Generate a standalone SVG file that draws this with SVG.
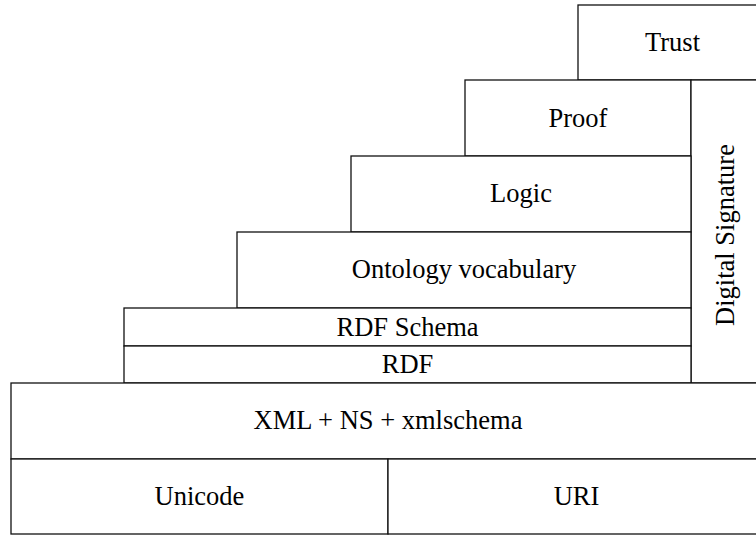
<svg xmlns="http://www.w3.org/2000/svg" width="756" height="535" viewBox="0 0 756 535">
  <style>
    .box { fill: #fff; stroke: #111; stroke-width: 1.3; }
    .lbl { font-size: 26.5px; fill: #000; text-anchor: middle; }
  </style>
  <rect x="0" y="0" width="756" height="535" fill="#fff"/>
  <!-- Semantic web layer cake, top to bottom -->
  <g font-family="Liberation Serif, Times New Roman, DejaVu Serif, serif">
  <g id="trust">
    <rect class="box" x="578" y="5" width="200" height="75"/>
    <text class="lbl" x="672.5" y="51">Trust</text>
  </g>
  <g id="proof">
    <rect class="box" x="465" y="80" width="226" height="76"/>
    <text class="lbl" x="578" y="127">Proof</text>
  </g>
  <g id="digital-signature">
    <rect class="box" x="691" y="80" width="90" height="303"/>
    <text class="lbl" transform="translate(734,235) rotate(-90)" x="0" y="0">Digital Signature</text>
  </g>
  <g id="logic">
    <rect class="box" x="351" y="156" width="340" height="76"/>
    <text class="lbl" x="521" y="202">Logic</text>
  </g>
  <g id="ontology">
    <rect class="box" x="237" y="232" width="454" height="76"/>
    <text class="lbl" x="464" y="278">Ontology vocabulary</text>
  </g>
  <g id="rdf-schema">
    <rect class="box" x="124" y="308" width="567" height="38"/>
    <text class="lbl" x="407.5" y="336">RDF Schema</text>
  </g>
  <g id="rdf">
    <rect class="box" x="124" y="346" width="567" height="37"/>
    <text class="lbl" x="407.5" y="373">RDF</text>
  </g>
  <g id="xml">
    <rect class="box" x="11" y="383" width="754" height="76"/>
    <text class="lbl" x="388" y="429">XML + NS + xmlschema</text>
  </g>
  <g id="unicode">
    <rect class="box" x="11" y="459" width="377" height="75"/>
    <text class="lbl" x="199.5" y="505">Unicode</text>
  </g>
  <g id="uri">
    <rect class="box" x="388" y="459" width="377" height="75"/>
    <text class="lbl" x="576.5" y="505">URI</text>
  </g>
  </g>
  <g id="connectors"></g>
</svg>
